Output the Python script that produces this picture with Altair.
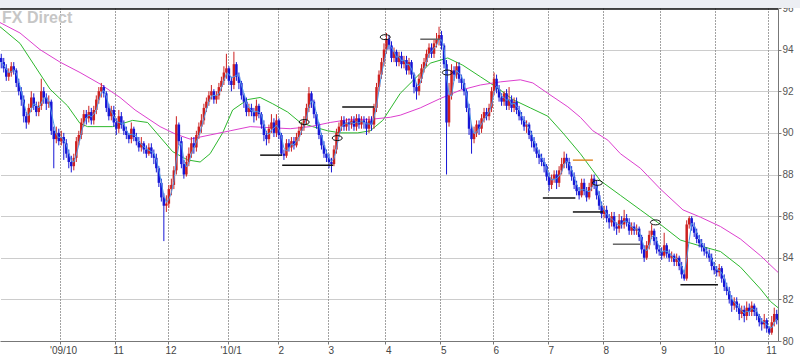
import json
import altair as alt
import pandas as pd

# ---------------- data (USD/JPY daily) ----------------
open_first = 93.6
close = [
    93.4, 93.1, 92.7, 92.9, 93.2, 93.0, 92.4, 92.0, 91.6, 90.8,
    90.5, 91.2, 91.7, 91.3, 91.0, 91.3, 92.0, 91.7, 91.4, 91.5,
    90.1, 89.7, 90.0, 89.6, 89.8, 89.5, 89.0, 88.6, 88.4, 88.8,
    89.6, 89.9, 90.5, 90.9, 90.7, 91.0, 90.6, 91.1, 91.6, 92.0,
    92.2, 91.9, 91.2, 90.8, 91.1, 90.5, 90.2, 90.8, 90.4, 90.1,
    89.9, 89.7, 90.2, 89.8, 89.6, 89.3, 89.5, 89.2, 89.0, 89.3,
    89.0, 88.8, 88.3, 87.6, 86.9, 86.5, 86.6, 87.3, 87.5, 88.2,
    90.4, 89.6, 88.5, 88.0, 88.6, 89.0, 89.5, 89.3, 89.9, 90.3,
    90.6, 91.2, 91.5, 91.8, 92.0, 91.6, 91.8, 92.2, 92.5, 92.9,
    93.1, 92.5, 92.3, 93.3, 92.7, 92.4, 91.8, 91.5, 91.0, 91.2,
    91.0, 90.8, 91.3, 90.9, 90.4, 89.9, 89.7, 90.2, 90.5, 90.0,
    90.6, 89.9, 89.0, 88.9, 89.5, 89.3, 89.6, 89.4, 89.8, 90.1,
    90.3, 90.6, 91.2, 91.9, 91.5, 90.9, 90.4, 89.9, 89.4, 89.0,
    88.8, 88.6, 88.5, 89.2, 90.0, 90.3, 90.6, 90.3, 90.5, 90.4,
    90.6, 90.3, 90.7, 90.4, 90.6, 90.5, 90.2, 90.6, 90.4, 91.2,
    92.2, 92.8, 93.4, 94.0, 94.5, 94.2, 93.6, 93.9, 93.4, 93.7,
    93.3, 93.5, 93.0, 93.4, 92.8, 92.2, 92.0, 92.6, 93.1, 93.4,
    93.8, 94.1, 93.8, 94.3, 94.5, 94.7, 94.2, 93.3, 90.5, 91.8,
    93.0, 92.8, 93.2, 92.6, 92.4, 92.0, 91.2, 90.2, 89.7, 90.0,
    90.4, 90.2, 90.7, 91.0, 90.8, 91.2, 92.0, 92.6, 92.1, 91.7,
    91.5, 91.9, 91.3, 91.6, 91.2, 91.5, 91.1, 90.8, 90.6, 90.3,
    90.4, 89.9, 89.6, 89.3, 89.0, 88.8, 88.6, 88.4, 87.9, 87.5,
    87.8, 88.0, 87.6, 88.2, 88.5, 88.8, 88.6, 88.2, 87.9, 87.5,
    87.2, 87.0, 87.6, 87.2, 86.9, 87.4, 87.8, 87.5, 87.0, 86.5,
    86.1, 86.3, 85.9, 85.7, 86.0, 85.5, 85.4, 85.8, 85.6, 85.9,
    85.7, 85.3, 85.5, 85.3, 85.4, 85.0, 84.4, 84.0, 84.6, 85.1,
    85.3, 84.8, 84.4, 84.3, 84.1, 84.6, 84.2, 84.0, 84.1, 83.8,
    84.0, 83.6, 83.2, 83.0, 85.6, 85.9, 85.5, 85.2, 84.9, 84.7,
    84.5, 84.3, 84.2, 84.0, 83.6, 83.4, 83.3, 83.5, 83.0, 82.6,
    82.4, 82.0, 81.7, 81.9, 81.6, 81.3, 81.5, 81.2, 81.6, 81.4,
    81.7, 81.4, 81.2, 80.9, 80.8, 81.0, 80.6, 80.4, 80.9, 81.3, 81.0,
]
high = [
    93.8, 93.6, 93.3, 93.1, 93.4, 93.4, 93.1, 92.6, 92.2, 91.8,
    91.0, 91.4, 92.0, 91.9, 91.5, 91.5, 92.6, 92.2, 91.9, 91.8,
    91.6, 90.3, 90.3, 90.2, 90.1, 90.0, 89.7, 89.2, 88.9, 89.0,
    89.8, 90.1, 90.7, 91.1, 91.1, 91.3, 91.2, 91.3, 91.8, 92.2,
    92.4, 92.3, 92.0, 91.4, 91.3, 91.3, 90.7, 91.1, 91.0, 90.6,
    90.3, 90.0, 90.5, 90.3, 90.0, 89.8, 89.8, 89.6, 89.4, 89.5,
    89.5, 89.2, 89.0, 88.4, 87.8, 87.1, 87.0, 87.5, 87.8, 88.4,
    90.8, 90.5, 89.8, 88.7, 88.9, 89.3, 89.8, 89.8, 90.1, 90.5,
    90.9, 91.4, 91.7, 92.0, 92.3, 92.1, 92.0, 92.4, 92.7, 93.2,
    93.8, 93.2, 92.7, 93.9, 93.4, 92.9, 92.5, 91.9, 91.7, 91.4,
    91.4, 91.2, 91.6, 91.4, 91.0, 90.6, 90.1, 90.4, 90.9, 90.7,
    90.9, 90.7, 90.0, 89.2, 89.7, 89.7, 89.8, 89.8, 90.0, 90.3,
    90.5, 90.8, 91.4, 92.2, 92.0, 91.6, 91.0, 90.5, 90.0, 89.6,
    89.2, 89.0, 88.8, 89.4, 90.2, 90.5, 90.8, 90.8, 90.7, 90.7,
    90.8, 90.8, 90.9, 90.9, 90.8, 90.8, 90.7, 90.8, 90.8, 91.4,
    92.4, 93.0, 93.6, 94.3, 94.8, 94.7, 94.4, 94.1, 94.0, 93.9,
    93.9, 93.7, 93.7, 93.6, 93.5, 92.9, 92.4, 92.8, 93.3, 93.6,
    94.0, 94.3, 94.3, 94.5, 94.8, 95.1, 94.9, 94.3, 93.5, 92.4,
    93.3, 93.2, 93.4, 93.4, 92.8, 92.6, 92.1, 91.4, 90.4, 90.3,
    90.6, 90.6, 90.9, 91.2, 91.2, 91.4, 92.2, 92.9, 92.8, 92.3,
    91.9, 92.0, 92.1, 92.2, 91.8, 91.7, 91.7, 91.3, 91.0, 90.8,
    90.6, 90.5, 90.1, 89.8, 89.5, 89.2, 89.0, 88.8, 88.5, 88.1,
    88.0, 88.2, 88.2, 88.4, 88.8, 89.1, 89.0, 88.8, 88.4, 88.1,
    87.7, 87.4, 87.8, 87.8, 87.4, 87.6, 88.0, 88.0, 87.7, 87.2,
    86.7, 86.5, 86.5, 86.1, 86.2, 86.2, 85.7, 86.1, 86.0, 86.3,
    86.1, 85.9, 85.7, 85.7, 85.6, 85.5, 85.1, 84.6, 84.8, 85.3,
    85.6, 85.4, 85.0, 84.6, 84.5, 85.2, 84.7, 84.4, 84.3, 84.2,
    84.2, 84.1, 83.8, 83.4, 85.8, 86.0, 86.0, 85.7, 85.4, 85.1,
    84.9, 84.7, 84.5, 84.4, 84.2, 83.8, 83.6, 83.7, 83.6, 83.2,
    82.8, 82.6, 82.2, 82.1, 82.1, 81.8, 81.7, 81.7, 81.9, 81.8,
    81.9, 81.8, 81.6, 81.3, 81.1, 81.3, 81.1, 80.7, 81.2, 81.6, 81.5,
]
low = [
    93.1, 92.9, 92.5, 92.5, 92.7, 92.8, 92.2, 91.8, 91.3, 90.5,
    90.2, 90.4, 91.0, 91.1, 90.8, 90.8, 91.1, 91.4, 91.1, 91.2,
    89.9, 88.3, 89.5, 89.4, 89.4, 88.7, 88.8, 88.3, 88.1, 88.2,
    88.6, 89.4, 89.7, 90.3, 90.4, 90.5, 90.4, 90.4, 90.9, 91.4,
    91.7, 91.7, 91.0, 90.6, 90.6, 90.3, 89.9, 90.0, 90.2, 89.9,
    89.7, 89.5, 89.5, 89.6, 89.4, 89.1, 89.1, 89.0, 88.8, 88.9,
    88.8, 88.5, 88.1, 87.4, 86.7, 84.8, 86.2, 86.4, 87.0, 87.3,
    88.0, 89.4, 88.3, 87.8, 87.9, 88.4, 88.8, 89.0, 89.1, 89.7,
    90.0, 90.4, 91.0, 91.3, 91.6, 91.4, 91.4, 91.6, 92.0, 92.3,
    92.6, 92.3, 92.0, 92.1, 92.5, 92.1, 91.6, 91.2, 90.8, 90.8,
    90.8, 90.5, 90.6, 90.7, 90.2, 89.6, 89.4, 89.5, 90.0, 89.8,
    89.8, 89.7, 88.9, 88.7, 88.8, 89.1, 89.1, 89.2, 89.3, 89.6,
    89.9, 90.1, 90.4, 91.0, 91.2, 90.7, 90.2, 89.7, 89.2, 88.8,
    88.6, 88.3, 88.1, 88.4, 89.0, 89.8, 90.1, 90.1, 90.1, 90.1,
    90.2, 90.1, 90.1, 90.2, 90.2, 90.2, 89.9, 90.0, 90.1, 90.2,
    91.0, 92.0, 92.6, 93.2, 93.8, 94.0, 93.4, 93.4, 93.2, 93.2,
    93.1, 93.1, 92.8, 92.8, 92.6, 91.9, 91.6, 91.8, 92.4, 92.9,
    93.2, 93.6, 93.6, 93.6, 94.1, 94.2, 94.0, 93.1, 88.0, 90.3,
    91.6, 92.5, 92.6, 92.4, 92.1, 91.8, 91.0, 89.9, 89.0, 89.5,
    89.8, 89.9, 90.0, 90.5, 90.6, 90.6, 91.0, 91.8, 91.9, 91.5,
    91.3, 91.3, 91.1, 91.1, 91.0, 91.0, 90.9, 90.6, 90.4, 90.1,
    90.0, 89.7, 89.3, 89.1, 88.8, 88.5, 88.4, 88.1, 87.7, 87.2,
    87.3, 87.6, 87.3, 87.4, 88.0, 88.3, 88.3, 88.0, 87.7, 87.3,
    87.0, 86.8, 86.9, 87.0, 86.7, 86.8, 87.2, 87.3, 86.8, 86.3,
    85.9, 85.9, 85.7, 85.4, 85.5, 85.3, 85.1, 85.2, 85.4, 85.4,
    85.5, 85.1, 85.1, 85.1, 85.1, 84.8, 84.2, 83.8, 83.9, 84.4,
    84.9, 84.6, 84.2, 84.1, 83.9, 84.0, 84.0, 83.8, 83.8, 83.6,
    83.6, 83.4, 83.0, 82.9, 82.9, 85.4, 85.3, 85.0, 84.7, 84.5,
    84.3, 84.1, 84.0, 83.8, 83.4, 83.2, 83.1, 83.1, 82.8, 82.4,
    82.2, 81.8, 81.4, 81.5, 81.4, 81.0, 81.1, 80.9, 81.0, 81.2,
    81.2, 81.2, 81.0, 80.7, 80.5, 80.6, 80.4, 80.3, 80.3, 80.7, 80.8,
]

# month gridlines (bar index) and their labels
tick_idx = [24, 46, 67, 91, 111, 131, 154, 176, 197, 219, 241, 264, 286, 307]
tick_lbl = ["'09/10", "11", "12", "'10/1", "2", "3", "4", "5", "6", "7", "8", "9", "10", "11"]
price_ticks = [80, 82, 84, 86, 88, 90, 92, 94, 96]

# 25-day average (green)
green_idx = [0, 8, 20, 27, 32, 35, 45, 53, 59, 64, 69, 75, 80, 84, 89, 93, 99, 104, 109,
             115, 120, 125, 131, 136, 143, 148, 153, 160, 165, 172, 179, 185, 192, 199,
             205, 212, 219, 225, 232, 240, 248, 256, 264, 272, 279, 288, 296, 304, 308, 311]
green_val = [95.1, 94.3, 92.1, 91.3, 90.45, 90.3, 90.3, 90.6, 90.5, 89.8, 89.1, 88.7, 88.6,
             89.0, 90.0, 91.1, 91.6, 91.7, 91.4, 91.0, 90.5, 90.3, 90.1, 90.0, 90.0, 90.1,
             90.6, 91.9, 92.5, 93.35, 93.6, 93.25, 92.7, 92.15, 91.6, 91.2, 90.8, 90.0,
             89.0, 87.7, 87.0, 86.3, 85.6, 84.85, 84.6, 84.3, 83.55, 82.5, 81.9, 81.6]

# 75-day average (magenta)
mag_idx = [0, 8, 16, 24, 32, 40, 48, 54, 64, 70, 76, 84, 92, 100, 108, 116, 124, 132, 140,
           148, 156, 160, 168, 176, 184, 192, 200, 208, 213, 219, 227, 232, 237, 243, 248,
           256, 264, 273, 280, 288, 296, 304, 311]
mag_val = [95.3, 94.8, 94.0, 93.4, 92.9, 92.35, 91.7, 91.1, 90.3, 89.95, 89.7, 89.9, 90.1,
           90.3, 90.25, 90.2, 90.3, 90.5, 90.65, 90.65, 90.75, 90.85, 91.2, 91.65, 92.05,
           92.3, 92.45, 92.55, 92.4, 91.9, 91.25, 90.75, 90.1, 89.65, 89.0, 88.3, 87.3,
           86.3, 85.95, 85.5, 84.9, 84.1, 83.3]

# horizontal marker segments
seg_x1 = [104, 112.8, 136.8, 168, 229, 217, 229, 245, 272]
seg_x2 = [112.8, 133.2, 149.6, 176, 237, 230, 241, 256, 287]
seg_y = [88.93, 88.45, 91.24, 94.5, 88.69, 86.87, 86.2, 84.65, 82.7]
seg_col = ["#111111", "#111111", "#111111", "#666666", "#e08a2a", "#111111", "#111111", "#666666", "#111111"]

# small ellipse markers
ell_x = [121.6, 134.8, 154.0, 178.8, 238.8, 262.0]
ell_y = [90.52, 89.75, 94.6, 92.9, 87.6, 85.7]

# ---------------- build tables ----------------
n = len(close)
opens = [open_first] + close[:-1]
bars = pd.DataFrame({
    "i": [k + 0.5 for k in range(n)],
    "o": opens, "c": close, "h": high, "l": low,
})
bars["hh"] = bars[["h", "o", "c"]].max(axis=1)
bars["ll"] = bars[["l", "o", "c"]].min(axis=1)
bars["dir"] = ["up" if c >= o else "down" for o, c in zip(bars.o, bars.c)]

green = pd.DataFrame({"i": green_idx, "v": green_val})
mag = pd.DataFrame({"i": mag_idx, "v": mag_val})
segs = pd.DataFrame({"i": seg_x1, "x2": seg_x2, "v": seg_y, "col": seg_col})
ells = pd.DataFrame({"i": ell_x, "v": ell_y})
one = pd.DataFrame({"t": ["FX Direct"]})

W, H = 778, 333
xs = alt.Scale(domain=[0, n], nice=False, zero=False)
ys = alt.Scale(domain=[80, 96], nice=False, zero=False)

label_expr = "{}[indexof({}, datum.value)]".format(json.dumps(tick_lbl), json.dumps(tick_idx))

x_axis = alt.Axis(
    values=tick_idx, labelExpr=label_expr, grid=True, gridDash=[1, 2],
    gridColor="#444444", gridOpacity=1, domainColor="#777777", tickColor="#777777",
    tickSize=3, labelPadding=1, labelFontSize=10, labelColor="#444444",
    labelFont="Liberation Sans", labelAlign="center", labelOffset=3, title=None,
    labelOverlap=False, labelFlush=False,
)
y_axis = alt.Axis(
    orient="right", values=price_ticks, grid=True, gridDash=[1, 1],
    gridColor="#999999", gridOpacity=1, domainColor="#777777", tickColor="#777777",
    tickSize=3, labelPadding=1, labelFontSize=10, labelColor="#555555",
    labelFont="Liberation Sans", title=None, labelBaseline="middle", labelFlush=False,
    labelOverlap=False,
)


def X(field):
    return alt.X(field, scale=xs, axis=x_axis, title=None)


def Y(field):
    return alt.Y(field, scale=ys, axis=y_axis, title=None)


watermark = alt.Chart(one).mark_text(
    align="left", baseline="alphabetic", font="Liberation Sans", fontSize=16,
    fontWeight="bold", color="#c6c6c6"
).encode(x=alt.value(2), y=alt.value(15), text="t:N")

strip = alt.Chart(one).mark_rect(color="#eceef3").encode(
    x=alt.value(0), x2=alt.value(800), y=alt.value(-8), y2=alt.value(0))
topline = alt.Chart(one).mark_rule(color="#111111", strokeWidth=1.5).encode(
    x=alt.value(0), x2=alt.value(W), y=alt.value(1))

gline = alt.Chart(green).mark_line(color="#2db82d", strokeWidth=1).encode(
    x=X("i:Q"), y=Y("v:Q"))
mline = alt.Chart(mag).mark_line(color="#dd3fcf", strokeWidth=1).encode(
    x=X("i:Q"), y=Y("v:Q"))

col = alt.Color("dir:N", scale=alt.Scale(domain=["up", "down"], range=["#cc2020", "#1616d6"]), legend=None)
wick = alt.Chart(bars).mark_rule(strokeWidth=1).encode(
    x=X("i:Q"), y=Y("ll:Q"), y2="hh:Q", color=col)
body = alt.Chart(bars).mark_rule(strokeWidth=2.5).encode(
    x=X("i:Q"), y=Y("o:Q"), y2="c:Q", color=col)

ma = alt.Chart(bars).transform_window(
    ma="mean(c)", frame=[-2, 0], sort=[alt.SortField("i")]
).mark_line(color="#4f9be8", strokeWidth=1).encode(x=X("i:Q"), y=Y("ma:Q"))

segr = alt.Chart(segs).mark_rule(strokeWidth=1.5).encode(
    x=X("i:Q"), x2="x2:Q", y=Y("v:Q"), color=alt.Color("col:N", scale=None))

ellipse_path = "M-1,0A1,0.5,0,1,1,1,0A1,0.5,0,1,1,-1,0Z"
ellm = alt.Chart(ells).mark_point(
    shape=ellipse_path, size=100, filled=False, stroke="#111111", strokeWidth=1, opacity=1
).encode(x=X("i:Q"), y=Y("v:Q"))

chart = alt.layer(
    gline, strip, watermark, mline, wick, body, ma, segr, ellm, topline
).properties(
    width=W, height=H, autosize="none",
    padding={"left": 0, "top": 8, "right": 22, "bottom": 14},
    background="#ffffff",
).configure_view(stroke=None)

chart.save("out.html", embed_options={"renderer": "svg", "actions": False})
